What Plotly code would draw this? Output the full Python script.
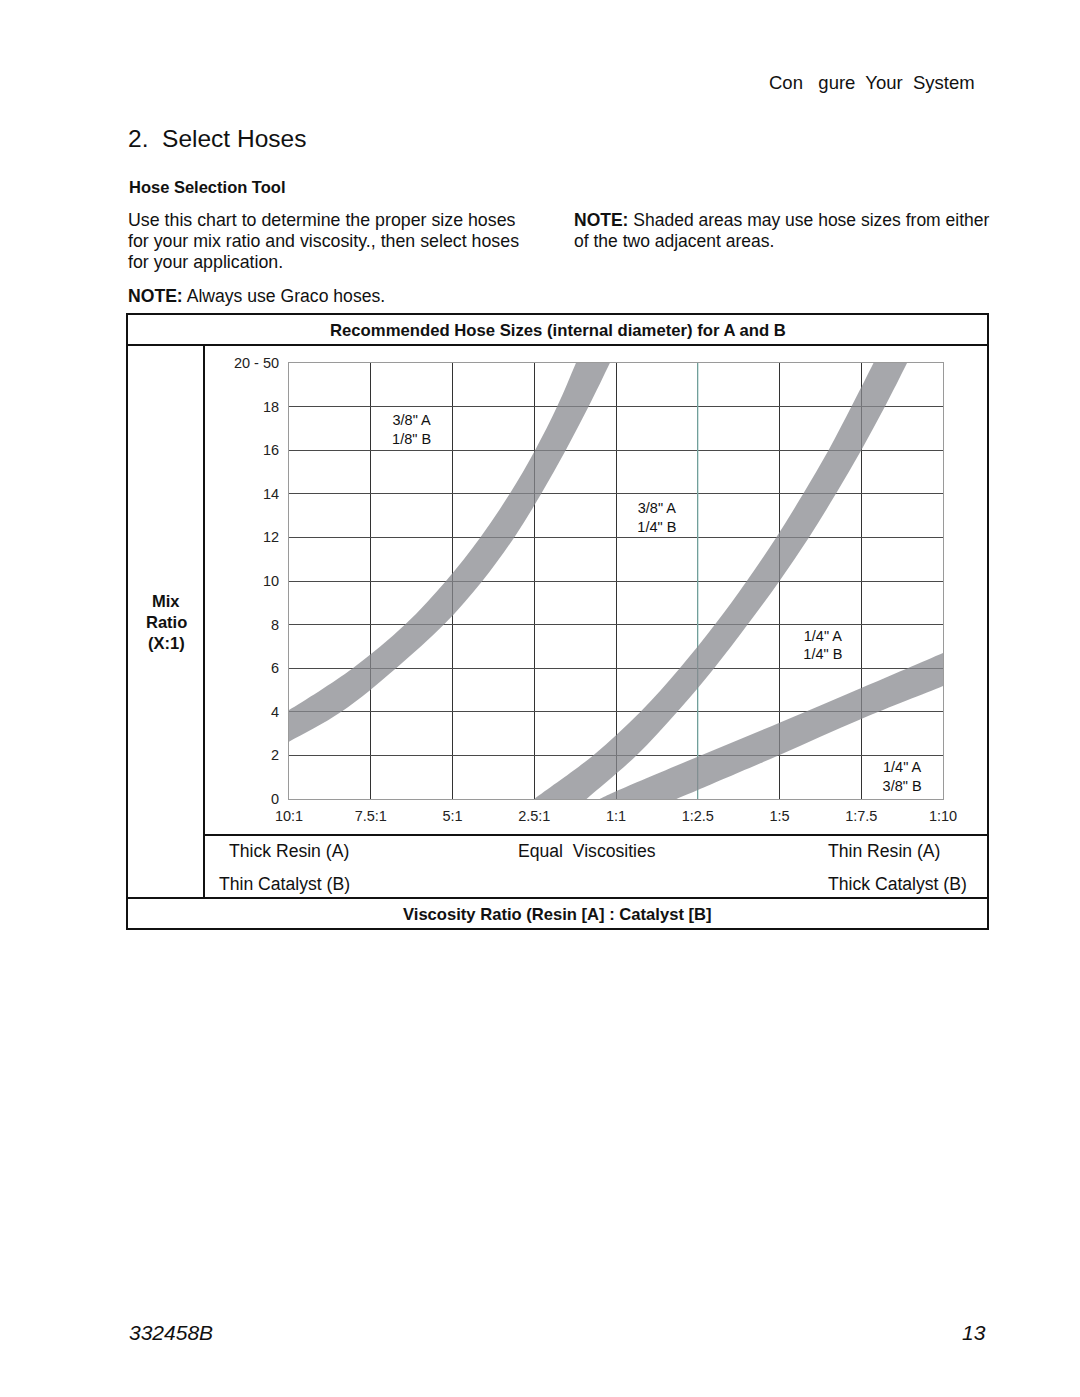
import plotly.graph_objects as go

# ---------------- data ----------------
x_labels = ["10:1", "7.5:1", "5:1", "2.5:1", "1:1", "1:2.5", "1:5", "1:7.5", "1:10"]
y_tick_vals = [0, 2, 4, 6, 8, 10, 12, 14, 16, 18, 20]
y_tick_text = ["0", "2", "4", "6", "8", "10", "12", "14", "16", "18", "20 - 50"]

# band 1 (between 3/8"A-1/8"B and 3/8"A-1/4"B) -- x as category index
band1_upper_x = [-0.2, 0.0, 0.78, 1.42, 1.92, 2.34, 2.70, 3.01, 3.28, 3.51, 3.62]
band1_upper_y = [3.65, 4.08, 6, 8, 10, 12, 14, 16, 18, 20, 21]
band1_lower_x = [-0.2, 0.0, 0.64, 1.31, 1.895, 2.365, 2.755, 3.085, 3.385, 3.665, 3.925, 4.05]
band1_lower_y = [2.25, 2.63, 4, 6, 8, 10, 12, 14, 16, 18, 20, 21]

# band 2 (between 3/8"A-1/4"B and 1/4"A-1/4"B)
band2_upper_x = [2.83, 3.0, 3.72, 4.30, 4.78, 5.21, 5.60, 5.96, 6.29, 6.60, 6.88, 7.15, 7.28]
band2_upper_y = [-0.5, 0, 2, 4, 6, 8, 10, 12, 14, 16, 18, 20, 21]
band2_lower_x = [3.49, 3.64, 4.25, 4.75, 5.20, 5.61, 6.00, 6.36, 6.69, 7.00, 7.29, 7.56, 7.69]
band2_lower_y = [-0.5, 0, 2, 4, 6, 8, 10, 12, 14, 16, 18, 20, 21]

# band 3 (between 1/4"A-1/4"B and 1/4"A-3/8"B)
band3_upper_x = [3.55, 3.80, 4.0, 5.0, 6.0, 7.0, 8.0, 8.2]
band3_upper_y = [-0.4, 0, 0.35, 1.94, 3.5, 5.09, 6.70, 7.02]
band3_lower_x = [4.45, 4.74, 5.0, 6.0, 7.0, 8.0, 8.2]
band3_lower_y = [-0.45, 0, 0.41, 2.02, 3.67, 5.18, 5.50]

zone_labels = ['3/8" A<br>1/8" B', '3/8" A<br>1/4" B', '1/4" A<br>1/4" B', '1/4" A<br>3/8" B']
zone_x = [1.5, 4.5, 6.53, 7.5]
zone_y = [16.9, 12.85, 7.0, 0.96]

# ---------------- figure ----------------
W, H = 1080, 1397
FONT = "Liberation Sans, Arial, Helvetica, sans-serif"


def px(x):
    return x / W


def py(y):
    return 1 - y / H


fig = go.Figure()

band_fill = "rgba(136,138,143,0.75)"
for ux, uy, lx, ly in [
    (band1_upper_x, band1_upper_y, band1_lower_x, band1_lower_y),
    (band2_upper_x, band2_upper_y, band2_lower_x, band2_lower_y),
    (band3_upper_x, band3_upper_y, band3_lower_x, band3_lower_y),
]:
    fig.add_trace(go.Scatter(
        x=ux + lx[::-1], y=uy + ly[::-1],
        mode="lines", fill="toself", fillcolor=band_fill,
        line=dict(width=0, shape="spline", smoothing=1.0),
        hoverinfo="skip", showlegend=False,
    ))

fig.add_trace(go.Scatter(
    x=zone_x, y=zone_y, mode="text", text=zone_labels,
    textfont=dict(family=FONT, size=14.5, color="#111"),
    hoverinfo="skip", showlegend=False, cliponaxis=False,
))

teal_idx = x_labels.index("1:2.5")
fig.add_shape(type="line", xref="x", yref="y", x0=teal_idx, x1=teal_idx, y0=0, y1=20,
              line=dict(color="#7db3ad", width=1.2), layer="between")

fig.update_xaxes(
    range=[0, 8], domain=[px(289), px(943)], automargin=False,
    tickmode="array", tickvals=list(range(len(x_labels))), ticktext=x_labels,
    showgrid=True, gridcolor="#333333", gridwidth=1,
    zeroline=False, showline=True, linecolor="#9a9a9a", linewidth=1, mirror=True,
    ticks="", ticklabelstandoff=4,
    tickfont=dict(family=FONT, size=14.5, color="#222"),
    fixedrange=True,
)
fig.update_yaxes(
    range=[0, 20], domain=[py(799), py(363)], automargin=False,
    tickmode="array", tickvals=y_tick_vals, ticktext=y_tick_text,
    showgrid=True, gridcolor="#4a4a4a", gridwidth=1,
    zeroline=False, showline=True, linecolor="#9a9a9a", linewidth=1, mirror=True,
    ticks="", ticklabelstandoff=6,
    tickfont=dict(family=FONT, size=14.5, color="#222"),
    fixedrange=True,
)

# ---------------- page text ----------------
def txt(text, x, y, size=17.6, anchor="left", bold=False, italic=False, color="#111"):
    if bold:
        text = "<b>" + text + "</b>"
    if italic:
        text = "<i>" + text + "</i>"
    fig.add_annotation(
        text=text, x=px(x), y=py(y), xref="paper", yref="paper",
        xanchor=anchor, yanchor="middle", showarrow=False,
        font=dict(family=FONT, size=size, color=color),
    )


txt("Con\u00a0\u00a0\u00a0gure\u00a0 Your\u00a0 System", 977, 82, size=18.5, anchor="right")
txt("2.\u00a0 Select Hoses", 126, 138, size=24.5)
txt("Hose Selection Tool", 127, 187, size=16.5, bold=True)
txt("Use this chart to determine the proper size hoses", 126, 220, size=17.8)
txt("for your mix ratio and viscosity., then select hoses", 126, 241, size=17.8)
txt("for your application.", 126, 262, size=17.8)
txt("<b>NOTE:</b> Shaded areas may use hose sizes from either", 572, 220, size=17.5)
txt("of the two adjacent areas.", 572, 241, size=17.5)
txt("<b>NOTE:</b> Always use Graco hoses.", 126, 296)

txt("Recommended Hose Sizes (internal diameter) for A and B", 557.5, 330, size=16.7, anchor="center", bold=True)
txt("Mix", 166, 601, size=16.5, anchor="center", bold=True)
txt("Ratio", 166, 622, size=16.5, anchor="center", bold=True)
txt("(X:1)", 166, 643, size=16.5, anchor="center", bold=True)

txt("Thick Resin (A)", 227, 851)
txt("Equal\u00a0 Viscosities", 587, 851, anchor="center")
txt("Thin Resin (A)", 826, 851)
txt("Thin Catalyst (B)", 217, 884)
txt("Thick Catalyst (B)", 826, 884)
txt("Viscosity Ratio (Resin [A] : Catalyst [B]", 557.5, 914, size=16.6, anchor="center", bold=True)

txt("332458B", 127, 1332, size=21, italic=True)
txt("13", 988, 1332, size=21, anchor="right", italic=True)

# ---------------- table frame ----------------
LC = "#111111"
fig.add_shape(type="rect", xref="paper", yref="paper", x0=px(127), x1=px(988), y0=py(929), y1=py(314),
              line=dict(color=LC, width=2))
for (x0, y0, x1, y1) in [(127, 345, 988, 345), (204, 345, 204, 898), (204, 835, 988, 835), (127, 898, 988, 898)]:
    fig.add_shape(type="line", xref="paper", yref="paper", x0=px(x0), x1=px(x1), y0=py(y0), y1=py(y1),
                  line=dict(color=LC, width=2))

fig.update_layout(
    width=W, height=H, autosize=False,
    margin=dict(l=0, r=0, t=0, b=0),
    paper_bgcolor="white", plot_bgcolor="white",
    showlegend=False,
)

fig.write_html(
    "out.html",
    config={"responsive": False, "displayModeBar": False},
    post_script="document.body.style.margin='0';document.body.style.padding='0';"
                "document.body.style.overflow='hidden';",
)
